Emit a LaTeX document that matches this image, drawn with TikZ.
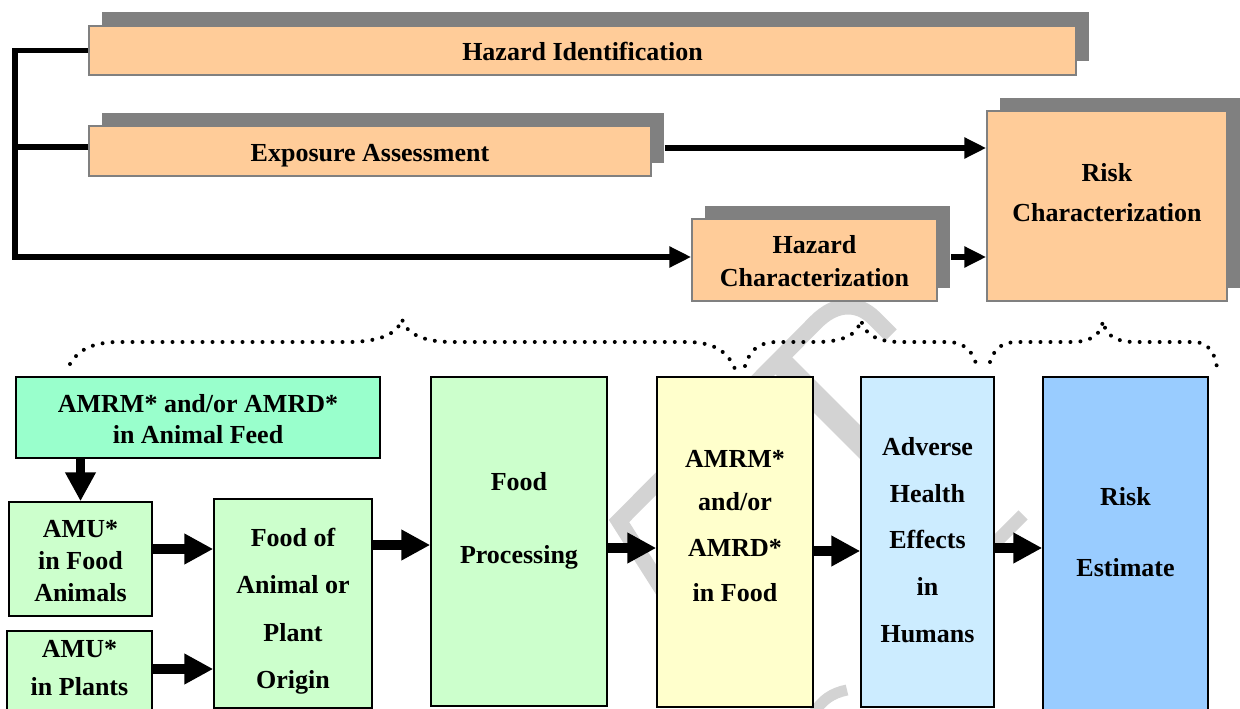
\documentclass[tikz,border=0pt]{standalone}
\usepackage{fontspec}
\setmainfont{Liberation Serif}
\usetikzlibrary{arrows.meta}
\definecolor{peach}{HTML}{FFCC99}
\definecolor{shgray}{HTML}{808080}
\definecolor{aqua}{HTML}{99FFCC}
\definecolor{mint}{HTML}{CCFFCC}
\definecolor{cream}{HTML}{FFFFCC}
\definecolor{paleblue}{HTML}{CCECFF}
\definecolor{skyblue}{HTML}{99CCFF}
\definecolor{wmgray}{HTML}{D3D3D3}
\begin{document}
\begin{tikzpicture}[x=1pt,y=-1pt,
  txt/.style={font=\fontsize{26}{30}\selectfont\bfseries, inner sep=0pt, anchor=base},
  obox/.style={draw=shgray, line width=1.5pt, fill=peach, inner sep=0pt,
    preaction={fill=shgray, draw=none, transform canvas={shift={(13pt,13.5pt)}}}},
  gbox/.style={draw=black, line width=1.5pt, inner sep=0pt},
  barrow/.style={line width=9.5pt, -{Triangle[width=29pt,length=29pt]}},
  tline/.style={line width=5.5pt},
  tarrow/.style={tline, -{Triangle[width=20pt,length=22pt]}},
  brace/.style={line width=4pt, line cap=round, dash pattern=on 0pt off 10pt},
  wm/.style={draw=wmgray, line width=16pt}
]
\clip (0,0) rectangle (1240,709);
\fill[white] (0,0) rectangle (1240,709);

% watermark (faint)
\draw[wm] (664,592) -- (619,521) -- (816,322) .. controls (836,302) and (858,302) .. (874,318) -- (891,335);
\draw[wm, line width=24pt] (780,362) -- (880,462);
\draw[wm, line width=13pt] (990,548) -- (1023,515);
\draw[wm, line width=11pt] (814,713) .. controls (822,700) and (832,693) .. (847,690);

% top boxes
\node[obox, minimum width=987pt, minimum height=49pt] (hi) at (582.5,50.5) {};
\node[txt] (hit) at (582.5,60) {Hazard Identification};
\node[obox, minimum width=562pt, minimum height=50pt] (ea) at (370,151) {};
\node[txt] (eat) at (370,161) {Exposure Assessment};
\node[obox, minimum width=240pt, minimum height=190pt] (rc) at (1107,206) {};
\node[txt] (rct1) at (1107,181) {Risk};
\node[txt] (rct2) at (1107,221) {Characterization};
\node[obox, minimum width=245pt, minimum height=82pt] (hc) at (814.5,260) {};
\node[txt] (hct1) at (814.5,253.5) {Hazard};
\node[txt] (hct2) at (814.5,286) {Characterization};

% top connectors
\coordinate (eaout) at ([xshift=13pt]ea.east);
\coordinate (hcout) at ([xshift=13pt]hc.east);
\draw[tarrow] (hi.west) -| (15,257) -- (hc.west |- 0,257);
\draw[tline] (ea.west |- 0,147) -- (15,147);
\draw[tarrow] (eaout |- 0,148) -- (rc.west |- 0,148);
\draw[tarrow] (hcout |- 0,257) -- (rc.west |- 0,257);

% dotted braces
\draw[brace] (70,364) .. controls (78,350) and (92,343) .. (115,342) -- (352,342) .. controls (380,341) and (398,334) .. (402,319) .. controls (406,334) and (424,342) .. (452,342) -- (690,342) .. controls (715,343) and (728,352) .. (735,369);
\draw[brace] (745,366) .. controls (750,350) and (758,343) .. (775,342) -- (820,342) .. controls (845,341) and (858,334) .. (861,320) .. controls (864,334) and (877,342) .. (900,342) -- (950,342) .. controls (965,343) and (974,352) .. (977,368);
\draw[brace] (990,362) .. controls (994,350) and (1000,343) .. (1015,342) -- (1075,342) .. controls (1092,341) and (1101,334) .. (1103,321) .. controls (1105,334) and (1114,342) .. (1135,342) -- (1195,342) .. controls (1208,343) and (1215,352) .. (1217,368);

% bottom boxes
\node[gbox, fill=aqua, minimum width=364pt, minimum height=81pt] (feed) at (198,417.5) {};
\node[txt] (feedt1) at (198,412) {AMRM* and/or AMRD*};
\node[txt] (feedt2) at (198,443) {in Animal Feed};

\node[gbox, fill=mint, minimum width=143pt, minimum height=114pt] (amufa) at (80.5,559) {};
\node[txt] (amufat1) at (80.5,537) {AMU*};
\node[txt] (amufat2) at (80.5,569) {in Food};
\node[txt] (amufat3) at (80.5,601) {Animals};

\node[gbox, fill=mint, minimum width=145pt, minimum height=100pt] (amup) at (79.5,681) {};
\node[txt] (amupt1) at (79.5,657) {AMU*};
\node[txt] (amupt2) at (79.5,695) {in Plants};

\node[gbox, fill=mint, minimum width=158pt, minimum height=209pt] (foodof) at (293,603.5) {};
\node[txt] (foodoft1) at (293,546) {Food of};
\node[txt] (foodoft2) at (293,593) {Animal or};
\node[txt] (foodoft3) at (293,641) {Plant};
\node[txt] (foodoft4) at (293,688) {Origin};

\node[gbox, fill=mint, minimum width=176pt, minimum height=329pt] (proc) at (519,541.5) {};
\node[txt] (proct1) at (519,490) {Food};
\node[txt] (proct2) at (519,563) {Processing};

\node[gbox, fill=cream, minimum width=156pt, minimum height=330pt] (amrm) at (735,542) {};
\node[txt] (amrmt1) at (735,467) {AMRM*};
\node[txt] (amrmt2) at (735,510) {and/or};
\node[txt] (amrmt3) at (735,556) {AMRD*};
\node[txt] (amrmt4) at (735,601) {in Food};

\node[gbox, fill=paleblue, minimum width=133pt, minimum height=330pt] (adv) at (927.5,542) {};
\node[txt] (advt1) at (927.5,455) {Adverse};
\node[txt] (advt2) at (927.5,502) {Health};
\node[txt] (advt3) at (927.5,548) {Effects};
\node[txt] (advt4) at (927.5,595) {in};
\node[txt] (advt5) at (927.5,642) {Humans};

\node[gbox, fill=skyblue, minimum width=165pt, minimum height=343pt] (risk) at (1125.5,548.5) {};
\node[txt] (riskt1) at (1125.5,505) {Risk};
\node[txt] (riskt2) at (1125.5,576) {Estimate};

% block arrows
\draw[barrow] (amufa.north |- feed.south) -- (amufa.north);
\draw[barrow] (amufa.east |- 0,549) -- (foodof.west |- 0,549);
\draw[barrow] (amup.east |- 0,669) -- (foodof.west |- 0,669);
\draw[barrow] (foodof.east |- 0,545) -- (proc.west |- 0,545);
\draw[barrow] (proc.east |- 0,548) -- (amrm.west |- 0,548);
\draw[barrow] (amrm.east |- 0,551) -- (adv.west |- 0,551);
\draw[barrow] (adv.east |- 0,548) -- (risk.west |- 0,548);
\end{tikzpicture}
\end{document}
